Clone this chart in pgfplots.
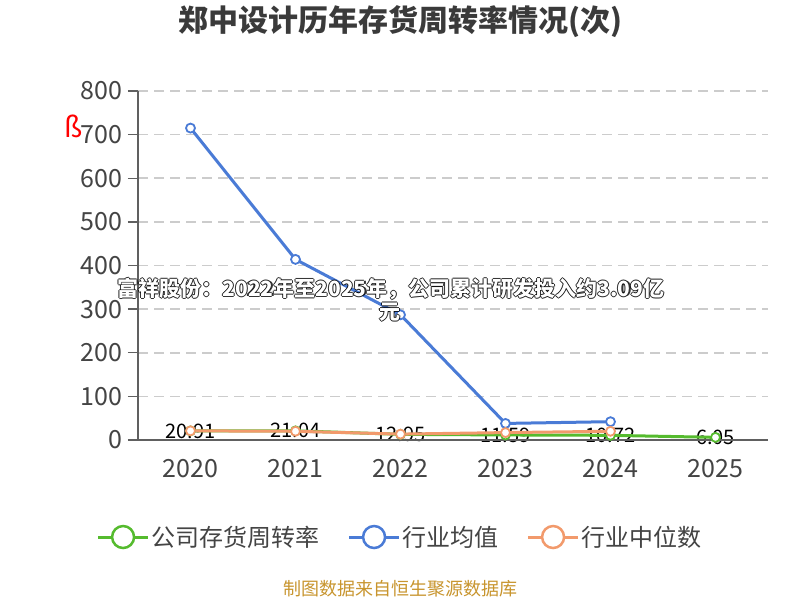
\documentclass[border=0pt]{standalone}
\usepackage{pgfplots}
\pgfplotsset{compat=1.18}
\usepackage{fontspec}
\setmainfont{Noto Sans CJK SC}
\usetikzlibrary{calc}

\definecolor{cgreen}{HTML}{55BB2E}
\definecolor{cblue}{HTML}{4A7BD6}
\definecolor{corange}{HTML}{F29A6C}
\definecolor{ctext}{HTML}{444444}
\definecolor{ctitle}{HTML}{3A3A3A}
\definecolor{cgrid}{HTML}{CCCCCC}
\definecolor{cgold}{HTML}{C8952E}

% white text with a dark halo
\newcommand{\halotext}[3]{%
  \foreach \dx/\dy in {-1.2/0,1.2/0,0/-1.2,0/1.2}
    \node[font=\fontsize{21}{24}\selectfont\bfseries, text=black, opacity=0.8] at ($(#1,#2)+(\dx,\dy)$) {#3};
  \node[font=\fontsize{21}{24}\selectfont\bfseries, text=white] at (#1,#2) {#3};
}

\pgfplotstableread{
x  y      l
0  20.91  20.91
1  21.04  21.04
2  12.95  12.95
3  11.59  11.59
4  10.72  10.72
5  6.05   6.05
}\company

\pgfplotstableread{
x  y
0  715
1  414
2  287
3  38
4  42
}\avg

\pgfplotstableread{
x  y
0  21
1  20
2  13.5
3  17
4  20
}\median

\pgfplotsset{chartframe/.style={
  at={(138pt,160pt)}, anchor=south west,
  scale only axis, width=630pt, height=349pt,
  xmin=-0.5, xmax=5.5, ymin=0, ymax=800, clip=false}}

\begin{document}
\begin{tikzpicture}[x=1pt,y=1pt]
\useasboundingbox (0,0) rectangle (800,600);
\fill[white] (0,0) rectangle (800,600);
\node[font=\fontsize{30}{34}\selectfont\bfseries, text=ctitle] at (400,578) {郑中设计历年存货周转率情况(次)};

% value labels first, so that the lines pass over them
\begin{axis}[chartframe, hide axis]
\addplot[draw=none, nodes near coords, point meta=explicit symbolic,
  every node near coord/.append style={anchor=center, font=\fontsize{20}{22}\selectfont, text=black}]
  table[x=x, y=y, meta=l] {\company};
\end{axis}

\begin{axis}[
  chartframe,
  axis x line*=bottom, axis y line*=left,
  axis line style={ctext!85, line width=1.3pt, -},
  xtick={0,...,5},
  xticklabels={2020,2021,2022,2023,2024,2025},
  minor xtick={-0.5,0.5,...,5.5},
  ytick={0,100,...,800},
  tick align=outside,
  major tick length=10pt, minor tick length=10pt,
  xtick style={draw=none},
  minor tick style={ctext!85, line width=1.3pt},
  ytick style={ctext!85, line width=1.3pt},
  ymajorgrids,
  major grid style={cgrid, line width=1.5pt, dash pattern=on 10pt off 6pt},
  /pgf/number format/assume math mode=true,
  ticklabel style={font=\fontsize{25}{28}\selectfont, text=ctext},
  xticklabel style={yshift=-6pt},
  yticklabel style={xshift=-2pt},
  legend columns=3,
  legend style={draw=none, fill=none, at={(0.416,-0.278)}, anchor=center,
    font=\fontsize{24}{28}\selectfont, text=ctext,
    /tikz/every even column/.append style={column sep=26pt}},
  legend image code/.code={
    \draw[#1, mark=none] (0pt,0pt) -- (50pt,0pt);
    \draw[#1, mark=none, fill=white, line width=2.5pt] (25pt,0pt) circle (11pt);
  },
]
\addplot[cgreen, line width=3pt, mark=*, mark size=4.5pt,
  mark options={fill=white, draw=cgreen, line width=1.8pt}] table[x=x, y=y] {\company};
\addplot[cblue, line width=3pt, mark=*, mark size=4.5pt,
  mark options={fill=white, draw=cblue, line width=1.8pt}] table[x=x, y=y] {\avg};
\addplot[corange, line width=3pt, mark=*, mark size=4.5pt,
  mark options={fill=white, draw=corange, line width=1.8pt}] table[x=x, y=y] {\median};
\legend{公司存货周转率,行业均值,行业中位数}
\end{axis}

\node[text=red, font=\fontsize{28}{28}\selectfont\itshape] at (74,474) {ß};
\halotext{391}{311}{富祥股份：2022年至2025年，公司累计研发投入约3.09亿}
\halotext{390}{288}{元}
\node[font=\fontsize{18}{20}\selectfont, text=cgold] at (400,11) {制图数据来自恒生聚源数据库};
\end{tikzpicture}
\end{document}
